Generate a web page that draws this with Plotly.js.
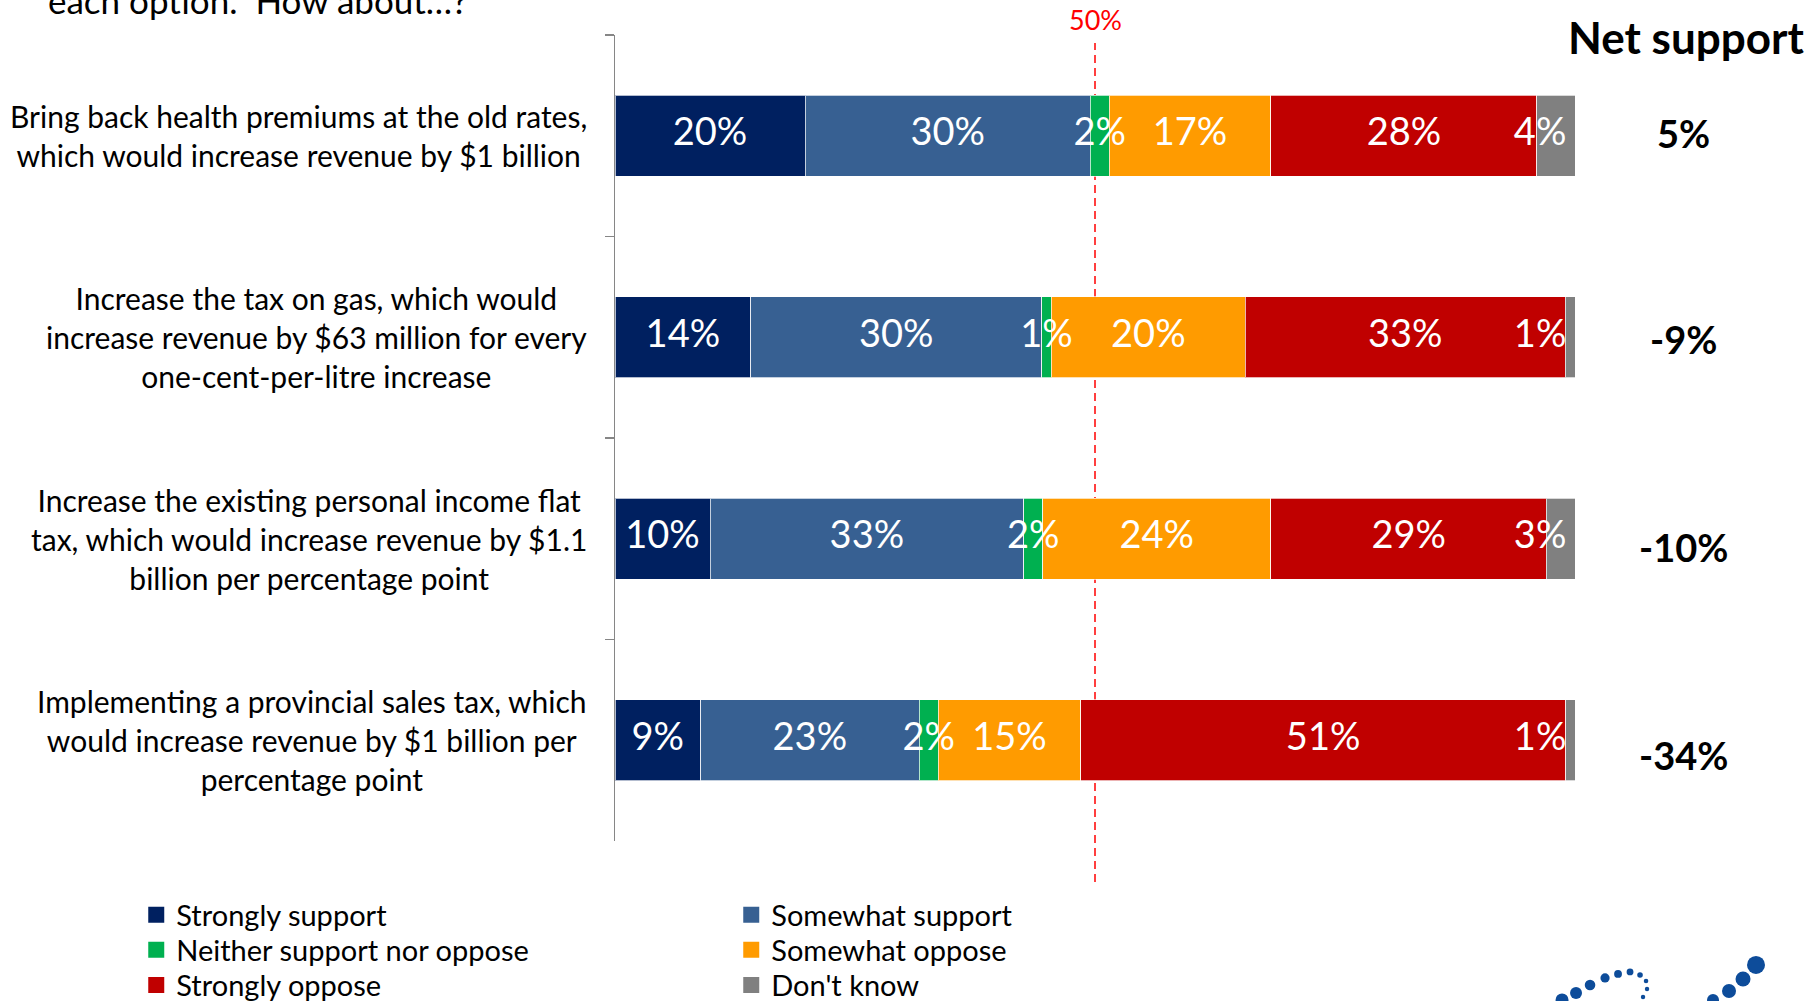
<!DOCTYPE html>
<html><head><meta charset="utf-8">
<script src="https://cdn.plot.ly/plotly-3.0.1.min.js"></script>
<style>html,body{margin:0;padding:0;background:#fff;} #chart{width:1814px;height:1001px;}</style>
</head><body><div id="chart"></div>
<script>
// ---- data ----
const categories = [
  "Bring back health premiums at the old rates,<br>which would increase revenue by $1 billion",
  "Increase the tax on gas, which would<br>increase revenue by $63 million for every<br>one-cent-per-litre increase",
  "Increase the existing personal income flat<br>tax, which would increase revenue by $1.1<br>billion per percentage point",
  "Implementing a provincial sales tax, which<br>would increase revenue by $1 billion per<br>percentage point"
];
const seriesNames = ["Strongly support","Somewhat support","Neither support nor oppose","Somewhat oppose","Strongly oppose","Don't know"];
const stronglySupport = [20, 14, 10, 9];
const somewhatSupport = [30, 30, 33, 23];
const neitherSupportNorOppose = [2, 1, 2, 2];
const somewhatOppose = [17, 20, 24, 15];
const stronglyOppose = [28, 33, 29, 51];
const dontKnow = [4, 1, 3, 1];
const netSupport = ["5%", "-9%", "-10%", "-34%"];
const netSupportTitle = "Net support";
const referenceLabel = "50%";
const referenceValue = 50;
const questionTail = "each option.\u00a0 How about\u2026?";

// ---- styles ----
const colors = ["#002060", "#376092", "#00B050", "#FF9B00", "#C00000", "#808080"];
const FONT = "Lato, 'Open Sans', sans-serif";
const netLabelShift = [3, -2, -8, -15];          // px, visual placement of net-support labels
const legendRowsY = [-0.0918, -0.1352, -0.1787];  // paper y of each legend row

const series = [stronglySupport, somewhatSupport, neitherSupportNorOppose, somewhatOppose, stronglyOppose, dontKnow];
const totals = categories.map((c, i) => series.reduce((s, arr) => s + arr[i], 0));
const normalized = series.map(arr => arr.map((v, i) => v / totals[i] * 100));

const traces = [];
series.forEach((arr, s) => {
  traces.push({
    type: 'bar', orientation: 'h', name: seriesNames[s],
    y: categories, x: normalized[s],
    marker: {color: colors[s], line: {color: 'rgba(255,255,255,0.7)', width: 1}},
    hoverinfo: 'skip', showlegend: false
  });
});
// legend entries (square swatches), two per row
series.forEach((arr, s) => {
  const li = Math.floor(s / 2);
  traces.push({
    type: 'scatter', mode: 'markers', name: seriesNames[s], x: [null], y: [null],
    marker: {symbol: 'square', size: 16, color: colors[s]},
    legend: li === 0 ? 'legend' : 'legend' + (li + 1),
    showlegend: true, hoverinfo: 'skip'
  });
});
// value labels
series.forEach((arr, s) => {
  const xs = [], pos = [];
  categories.forEach((c, i) => {
    let before = 0;
    for (let k = 0; k < s; k++) before += normalized[k][i];
    if (s === series.length - 1) { xs.push(99.1); pos.push('middle left'); }
    else { xs.push(before + normalized[s][i] / 2); pos.push('middle center'); }
  });
  traces.push({
    type: 'scatter', mode: 'text', x: xs, y: categories,
    text: arr.map(v => v + '%'), textposition: pos,
    textfont: {family: FONT, size: 38, color: '#ffffff'},
    showlegend: false, hoverinfo: 'skip', cliponaxis: false
  });
});

const annotations = [];
categories.forEach((c, i) => {
  annotations.push({
    xref: 'paper', yref: 'y', x: -0.0275, y: c, xanchor: 'right', yanchor: 'middle',
    align: 'center', text: c, showarrow: false,
    font: {family: FONT, size: 30, color: '#000'}
  });
  annotations.push({
    xref: 'paper', yref: 'y', x: 1.1125, y: c, xanchor: 'center', yanchor: 'middle',
    yshift: netLabelShift[i],
    text: '<b>' + netSupport[i] + '</b>', showarrow: false,
    font: {family: FONT, size: 38, color: '#000'}
  });
});
annotations.push({
  xref: 'paper', yref: 'paper', x: 1.1156, y: 0.9975, xanchor: 'center', yanchor: 'middle',
  text: '<b>' + netSupportTitle + '</b>', showarrow: false,
  font: {family: FONT, size: 44, color: '#000'}
});
annotations.push({
  xref: 'x', yref: 'paper', x: referenceValue, y: 1.019, xanchor: 'center', yanchor: 'middle',
  text: referenceLabel, showarrow: false,
  font: {family: FONT, size: 27, color: '#FF0000'}
});
annotations.push({
  xref: 'paper', yref: 'paper', x: -0.5927, y: 1.0149, xanchor: 'left', yanchor: 'bottom',
  text: questionTail, showarrow: false,
  font: {family: FONT, size: 35, color: '#000'}
});

// decorative logo fragment (bottom right)
const logoSvg = '<svg xmlns="http://www.w3.org/2000/svg" width="260" height="50" viewBox="0 0 260 50"><g fill="#0D4C9A">' +
  '<circle cx="12" cy="45" r="6.5"/><circle cx="26" cy="38" r="6"/><circle cx="40" cy="30" r="5.3"/>' +
  '<circle cx="55" cy="23" r="4.6"/><circle cx="68" cy="19" r="3.9"/><circle cx="80" cy="17" r="3.4"/>' +
  '<circle cx="90" cy="20" r="2.8"/><circle cx="96" cy="26" r="2.3"/><circle cx="97" cy="34" r="2.2"/>' +
  '<circle cx="93" cy="42" r="2.2"/>' +
  '<circle cx="163" cy="45" r="6"/><circle cx="179" cy="36" r="7"/><circle cx="193" cy="24" r="7.5"/>' +
  '<circle cx="206" cy="10" r="9"/></g></svg>';

function legendRow(y) {
  return {
    orientation: 'h', x: -0.4987, xanchor: 'left', y: y, yanchor: 'middle',
    entrywidth: 550, entrywidthmode: 'pixels', traceorder: 'normal', itemsizing: 'trace',
    font: {family: FONT, size: 29, color: '#000'}, bgcolor: 'rgba(0,0,0,0)'
  };
}

const layout = {
  width: 1814, height: 1001,
  margin: {l: 615, r: 239, t: 35, b: 160, pad: 0, autoexpand: false},
  paper_bgcolor: '#ffffff', plot_bgcolor: 'rgba(0,0,0,0)',
  font: {family: FONT, color: '#000'},
  barmode: 'stack', bargap: 0.6,
  showlegend: true,
  xaxis: {range: [0, 100], visible: false, fixedrange: true},
  yaxis: {
    type: 'category', autorange: false, range: [3.5, -0.5],
    showticklabels: false, ticks: 'outside', tickson: 'boundaries', ticklen: 9,
    tickcolor: '#868686', tickwidth: 1.5, showline: true, linecolor: '#868686', linewidth: 1.5,
    showgrid: false, zeroline: false, fixedrange: true
  },
  legend: legendRow(legendRowsY[0]),
  legend2: legendRow(legendRowsY[1]),
  legend3: legendRow(legendRowsY[2]),
  shapes: [{
    type: 'line', xref: 'x', yref: 'paper', x0: referenceValue, x1: referenceValue, y0: -0.051, y1: 0.99,
    layer: 'below', line: {color: '#FF0000', width: 1.5, dash: '8px,5px'}
  }],
  images: [{
    source: 'data:image/svg+xml;charset=utf-8,' + encodeURIComponent(logoSvg),
    xref: 'paper', yref: 'paper', x: 0.974, y: -0.1414, sizex: 0.2708, sizey: 0.062,
    xanchor: 'left', yanchor: 'top', sizing: 'stretch', layer: 'above'
  }],
  annotations: annotations
};

Plotly.newPlot('chart', traces, layout, {displayModeBar: false, staticPlot: true});
</script></body></html>
